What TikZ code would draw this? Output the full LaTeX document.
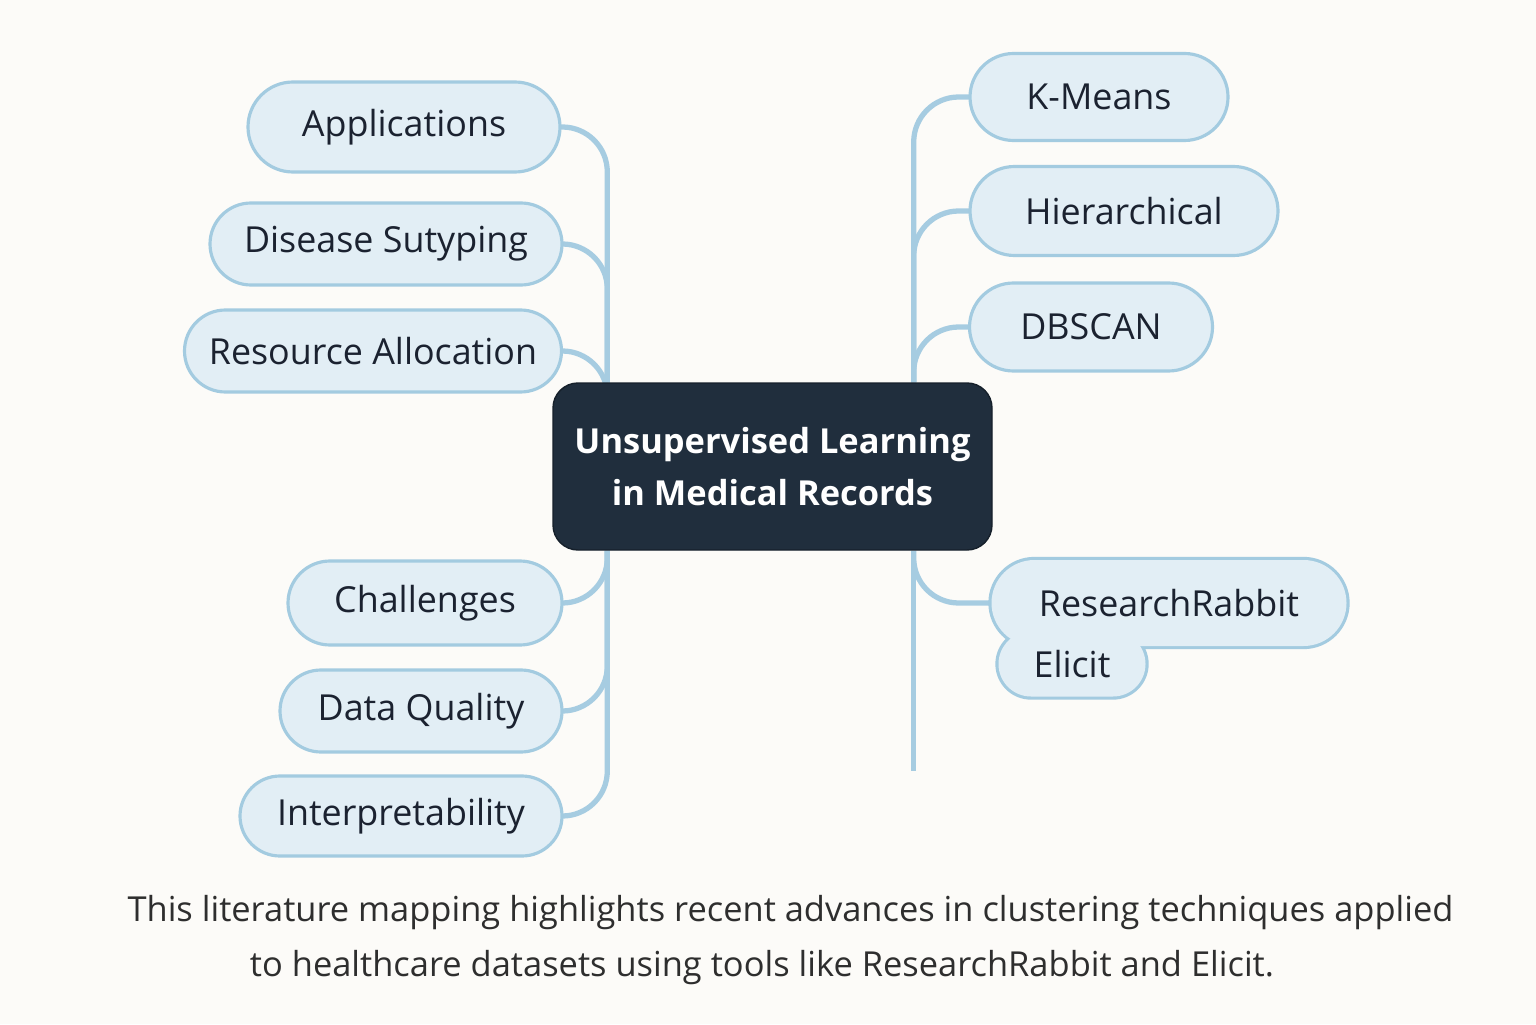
\documentclass[tikz,border=0pt]{standalone}
\usepackage{fontspec}
\setmainfont{Open Sans}
\usetikzlibrary{shapes.misc,backgrounds}

\definecolor{paper}{HTML}{FCFBF8}
\definecolor{leaffill}{HTML}{E2EEF5}
\definecolor{leafline}{HTML}{A3CBE0}
\definecolor{branchblue}{HTML}{A6CCE1}
\definecolor{hubfill}{HTML}{202E3D}
\definecolor{ink}{HTML}{1B2230}
\definecolor{captionink}{HTML}{2E2E2E}

\tikzset{
  leaf/.style={rounded rectangle, draw=leafline, fill=leaffill, line width=0.9pt,
    text=ink, font=\fontsize{10.2}{13}\selectfont, inner sep=0pt, minimum height=0.84cm},
  leafrim/.style={rounded rectangle, draw=leafline, fill=leaffill, line width=1.8pt, inner sep=0pt},
  leafbody/.style={rounded rectangle, fill=leaffill, text=ink,
    font=\fontsize{10.2}{13}\selectfont, inner sep=0pt},
  hubbox/.style={rectangle, rounded corners=0.25cm, fill=hubfill, draw=hubfill!70!black,
    text=white, font=\fontsize{9.8}{14.6}\selectfont\bfseries, align=center,
    minimum width=4.39cm, minimum height=1.67cm, inner sep=0pt},
  branch/.style={draw=branchblue, line width=1.5pt, rounded corners=0.45cm},
  caption/.style={text=captionink, font=\fontsize{9.8}{13}\selectfont}
}

\begin{document}
\begin{tikzpicture}
  \begin{scope}[on background layer]
    \fill[paper] (0,0) rectangle (15.36,10.24);
  \end{scope}

  % centre
  \node[hubbox] (hub) at (7.725,5.575) {Unsupervised Learning\\in Medical Records};

  \coordinate (ltop) at ([xshift=0.55cm]hub.north west);
  \coordinate (lbot) at ([xshift=0.55cm]hub.south west);
  \coordinate (rtop) at ([xshift=-0.79cm]hub.north east);
  \coordinate (rbot) at ([xshift=-0.79cm]hub.south east);
  \coordinate (rend) at ([yshift=-2.2cm]rbot);

  % left side
  \node[leaf, minimum width=3.12cm, minimum height=0.90cm] (apps) at (4.04,8.97) {Applications};
  \node[leaf, minimum width=3.52cm, minimum height=0.82cm] (dis) at (3.86,7.80) {Disease Sutyping};
  \node[leaf, minimum width=3.77cm, minimum height=0.82cm] (res) at (3.73,6.73) {Resource Allocation};
  \node[leaf, minimum width=2.74cm] (chal) at (4.25,4.21) {Challenges};
  \node[leaf, minimum width=2.82cm, minimum height=0.82cm] (dq) at (4.21,3.13) {Data Quality};
  \node[leaf, minimum width=3.22cm, minimum height=0.80cm] (interp) at (4.01,2.08) {Interpretability};

  % right side
  \node[leaf, minimum width=2.58cm, minimum height=0.87cm] (km) at (10.99,9.27) {K-Means};
  \node[leaf, minimum width=3.08cm, minimum height=0.89cm] (hier) at (11.24,8.13) {Hierarchical};
  \node[leaf, minimum width=2.43cm, minimum height=0.88cm] (db) at (10.91,6.97) {DBSCAN};

  % tools pair, drawn as one outline
  \node[leafrim, minimum width=3.55cm, minimum height=0.86cm] at (11.69,4.21) {};
  \node[leafrim, minimum width=1.47cm, minimum height=0.65cm] at (10.72,3.60) {};
  \node[leafbody, minimum width=3.55cm, minimum height=0.86cm] (rr) at (11.69,4.21) {ResearchRabbit};
  \node[leafbody, minimum width=1.47cm, minimum height=0.65cm] (el) at (10.72,3.60) {Elicit};

  % branches, kept under the boxes
  \begin{scope}[on background layer]
    \draw[branch] (apps.center) -| (ltop);
    \draw[branch] (dis.center) -| (ltop);
    \draw[branch] (res.center) -| (ltop);
    \draw[branch] (lbot) |- (interp.center);
    \draw[branch] (chal.center) -| (lbot);
    \draw[branch] (dq.center) -| (lbot);

    \draw[branch] (km.center) -| (rtop);
    \draw[branch] (hier.center) -| (rtop);
    \draw[branch] (db.center) -| (rtop);
    \draw[branch] (rbot) -- (rend);
    \draw[branch] (rr.center) -| (rbot);
  \end{scope}

  % caption
  \node[caption] (cap1) at (7.905,1.11) {This literature mapping highlights recent advances in clustering techniques applied};
  \node[caption] (cap2) at (7.62,0.56) {to healthcare datasets using tools like ResearchRabbit and Elicit.};
\end{tikzpicture}
\end{document}
